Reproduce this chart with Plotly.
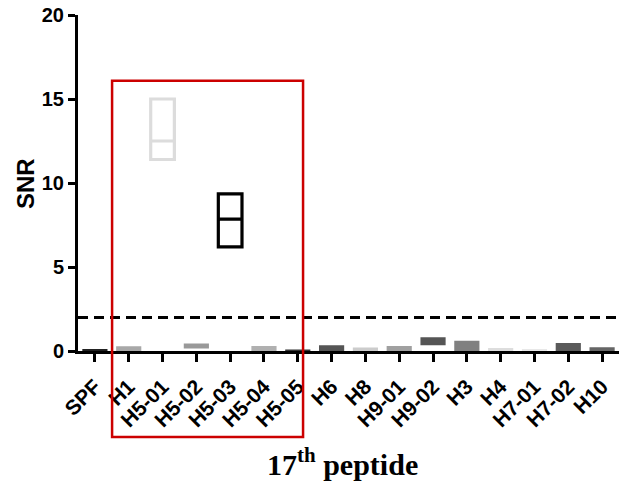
import plotly.graph_objects as go

categories = ["SPF", "H1", "H5-01", "H5-02", "H5-03", "H5-04", "H5-05", "H6", "H8",
              "H9-01", "H9-02", "H3", "H4", "H7-01", "H7-02", "H10"]
snr_min = [0.0, 0.0, 11.4, 0.2, 6.2, 0.0, 0.0, 0.0, 0.0, 0.0, 0.38, 0.0, 0.0, 0.0, 0.0, 0.0]
snr_median = [0.04, 0.12, 12.5, 0.3, 7.85, 0.12, 0.02, 0.14, 0.08, 0.12, 0.6, 0.28, 0.06, 0.04, 0.22, 0.08]
snr_max = [0.08, 0.24, 15.0, 0.4, 9.35, 0.26, 0.04, 0.3, 0.17, 0.26, 0.78, 0.56, 0.13, 0.08, 0.43, 0.18]
box_colors = ["#222222", "#a8a8a8", "#dcdcdc", "#999999", "#000000", "#b0b0b0", "#333333",
              "#555555", "#cccccc", "#a0a0a0", "#555555", "#808080", "#dddddd", "#e8e8e8",
              "#5a5a5a", "#666666"]
hollow = [False, False, True, False, True, False, False, False, False, False, False,
          False, False, False, False, False]
y_ticks = [0, 5, 10, 15, 20]
threshold = 2

fig = go.Figure()
for i, cat in enumerate(categories):
    fig.add_trace(go.Box(
        x=[cat], q1=[snr_min[i]], median=[snr_median[i]], q3=[snr_max[i]],
        lowerfence=[snr_min[i]], upperfence=[snr_max[i]],
        line=dict(color=box_colors[i], width=3.2 if hollow[i] else 1.5),
        fillcolor="rgba(255,255,255,0)" if hollow[i] else box_colors[i],
        whiskerwidth=0, width=0.7, boxpoints=False, showlegend=False,
        hoverinfo="skip",
    ))

fig.add_hline(y=threshold, line=dict(color="black", width=3, dash="10px,6px"))

# red highlight rectangle
fig.add_shape(type="rect", xref="paper", yref="paper",
              x0=0.063, x1=0.416, y0=-0.256, y1=0.804,
              line=dict(color="#cc0000", width=2.5), layer="above")

fig.add_annotation(text="17<sup>th</sup> peptide", xref="paper", yref="paper",
                   x=0.488, y=-0.33, xanchor="center", yanchor="middle", showarrow=False,
                   font=dict(family="Liberation Serif, Times New Roman, serif", size=30,
                             color="black", weight="bold"))
fig.add_annotation(text="SNR", xref="paper", yref="paper", textangle=-90,
                   x=-0.098, y=0.5, xanchor="center", yanchor="middle", showarrow=False,
                   font=dict(family="Liberation Sans, Arial, sans-serif", size=24,
                             color="black", weight="bold"))

fig.update_layout(
    width=621, height=484,
    margin=dict(l=78, r=2, t=15, b=133, autoexpand=False),
    plot_bgcolor="white", paper_bgcolor="white",
    boxmode="overlay",
    font=dict(family="Liberation Sans, Arial, sans-serif", color="black"),
)
fig.update_xaxes(
    type="category", categoryorder="array", categoryarray=categories,
    range=[-0.5, len(categories) - 0.5], automargin=False,
    showline=True, linecolor="black", linewidth=3,
    ticks="outside", ticklen=8, tickwidth=3, tickcolor="black",
    tickangle=-45, tickfont=dict(size=21, weight="bold", color="black"),
    ticklabelstandoff=4,
    showgrid=False, zeroline=False,
)
fig.update_yaxes(
    range=[0, 20], tickvals=y_ticks, automargin=False,
    showline=True, linecolor="black", linewidth=3,
    ticks="outside", ticklen=7, tickwidth=3, tickcolor="black",
    tickfont=dict(size=20, weight="bold", color="black"),
    showgrid=False, zeroline=False,
)

fig.write_html("out.html", config={"displayModeBar": False},
               post_script="document.body.style.margin='0';")
